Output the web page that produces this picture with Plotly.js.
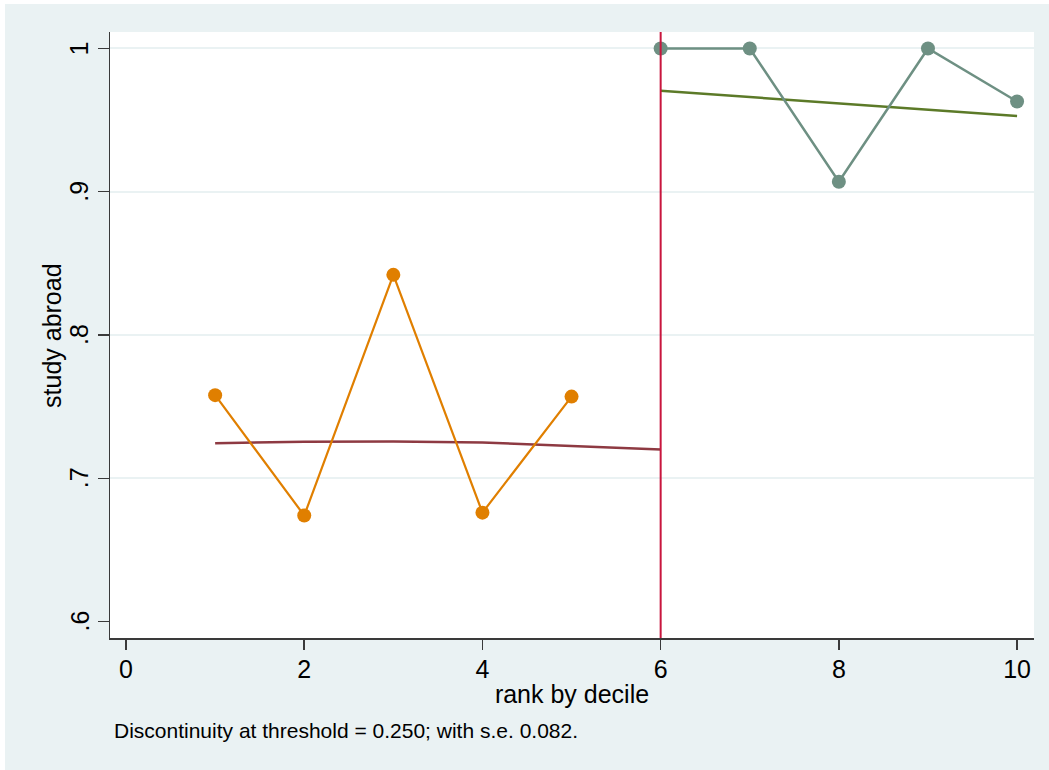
<!DOCTYPE html>
<html>
<head>
<meta charset="utf-8">
<script src="https://cdn.plot.ly/plotly-3.0.1.min.js"></script>
<style>
  html, body { margin: 0; padding: 0; background: #ffffff; width: 1049px; height: 770px; overflow: hidden; }
  #chart { position: absolute; left: 5px; top: 4px; width: 1044px; height: 766px; }
</style>
</head>
<body>
<div id="chart"></div>
<script>
// Binned means below the threshold
const leftX = [1, 2, 3, 4, 5];
const leftY = [0.758, 0.674, 0.842, 0.676, 0.757];
// Binned means above the threshold
const rightX = [6, 7, 8, 9, 10];
const rightY = [1.0, 1.0, 0.907, 1.0, 0.963];
// Fitted curves
const fitLeftX = [1, 2, 3, 4, 5, 6];
const fitLeftY = [0.7245, 0.7254, 0.7256, 0.7249, 0.7226, 0.7201];
const fitRightX = [6, 7, 8, 9, 10];
const fitRightY = [0.9705, 0.966, 0.9617, 0.9572, 0.9528];
// Threshold
const threshold = 6;
// Axis ticks
const xTicks = [0, 2, 4, 6, 8, 10];
const xTickText = ["0", "2", "4", "6", "8", "10"];
const yTicks = [0.6, 0.7, 0.8, 0.9, 1.0];
const yTickText = [".6", ".7", ".8", ".9", "1"];
const yGrid = [0.7, 0.8, 0.9, 1.0];
const xTitle = "rank by decile";
const yTitle = "study abroad";
const note = "Discontinuity at threshold = 0.250; with s.e. 0.082.";

const font = "Liberation Sans, Arial, Helvetica, sans-serif";
const yRange = [0.5885, 1.0115];

const traces = [
  { x: [], y: [], type: "scatter", mode: "lines", yaxis: "y2", hoverinfo: "skip" },
  { x: fitLeftX, y: fitLeftY, type: "scatter", mode: "lines",
    line: { color: "#8e3a42", width: 2.5 }, hoverinfo: "skip" },
  { x: fitRightX, y: fitRightY, type: "scatter", mode: "lines",
    line: { color: "#5c7a28", width: 2.5 }, hoverinfo: "skip" },
  { x: leftX, y: leftY, type: "scatter", mode: "lines+markers",
    line: { color: "#e07f00", width: 2.2 },
    marker: { color: "#e07f00", size: 14 } },
  { x: rightX, y: rightY, type: "scatter", mode: "lines+markers",
    line: { color: "#6e9083", width: 2.5 },
    marker: { color: "#6e9083", size: 14 } }
];

// y tick labels as rotated text placed at the tick values
const yLabelAnnotations = yTicks.map((v, i) => ({
  text: yTickText[i], textangle: -90,
  xref: "paper", yref: "y", x: -0.0335, y: v,
  xanchor: "center", yanchor: "middle", showarrow: false,
  font: { size: 25, family: font, color: "#000" }
}));

const layout = {
  width: 1044, height: 766,
  margin: { l: 105, r: 15, t: 28, b: 132 },
  paper_bgcolor: "#eaf2f3",
  plot_bgcolor: "#ffffff",
  showlegend: false,
  font: { family: font, color: "#000000" },
  xaxis: {
    range: [-0.18, 10.19],
    tickmode: "array", tickvals: xTicks, ticktext: xTickText,
    showgrid: false, zeroline: false,
    showline: true, linecolor: "#3a3a3a", linewidth: 1.5,
    ticks: "outside", ticklen: 10, tickwidth: 1.5, tickcolor: "#3a3a3a",
    tickfont: { size: 25, family: font, color: "#000" },
    ticklabelstandoff: -2,
    title: { text: xTitle, font: { size: 25, family: font, color: "#000" }, standoff: 4 },
    automargin: false
  },
  yaxis: {
    range: yRange,
    tickmode: "array", tickvals: yTicks, ticktext: yTickText,
    showticklabels: false,
    showgrid: false,
    zeroline: false,
    showline: true, linecolor: "#3a3a3a", linewidth: 1.5,
    ticks: "outside", ticklen: 11, tickwidth: 1.5, tickcolor: "#3a3a3a",
    automargin: false
  },
  yaxis2: {
    range: yRange, overlaying: "y", side: "left",
    tickmode: "array", tickvals: yGrid,
    showticklabels: false, ticks: "", showline: false, zeroline: false,
    showgrid: true, gridcolor: "#eaf2f3", gridwidth: 2,
    automargin: false
  },
  shapes: [
    { type: "line", xref: "x", yref: "paper", x0: threshold, x1: threshold, y0: 0, y1: 1,
      line: { color: "#c8163e", width: 2 }, layer: "above" }
  ],
  annotations: yLabelAnnotations.concat([
    { text: yTitle, textangle: -90, xref: "paper", yref: "paper", x: -0.0628, y: 0.5,
      xanchor: "center", yanchor: "middle", showarrow: false,
      font: { size: 25, family: font, color: "#000" } },
    { text: note, xref: "paper", yref: "paper", x: 0.002, y: -0.152,
      xanchor: "left", yanchor: "middle", showarrow: false,
      font: { size: 21, family: font, color: "#000" } }
  ])
};

Plotly.newPlot("chart", traces, layout, { displayModeBar: false, staticPlot: true });
</script>
</body>
</html>
